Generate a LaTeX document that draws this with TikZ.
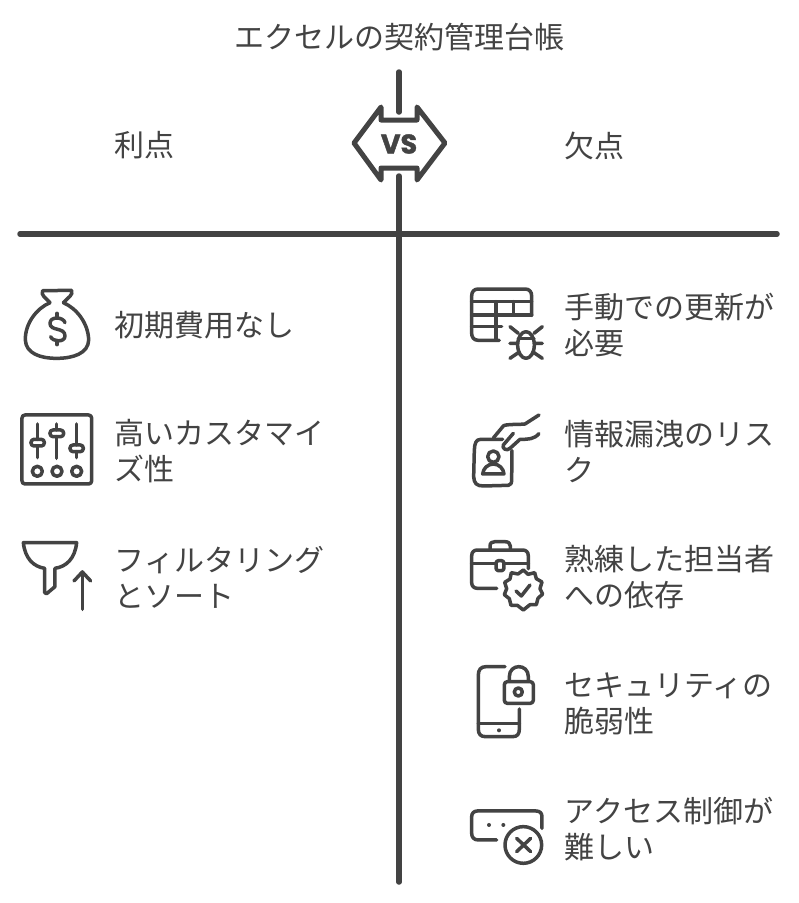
\documentclass[tikz,border=0pt]{standalone}
\usepackage{fontspec}
\setmainfont{Noto Sans CJK JP}
\newfontfamily\vsfont{Poppins}[BoldFeatures={FakeBold=1.5}]
\definecolor{ink}{HTML}{434343}
\tikzset{
  txt/.style={anchor=west,align=left,text=ink,inner sep=0pt,font=\fontsize{30}{36}\selectfont},
  heavy/.style={draw=ink,line width=5.5pt,line cap=round},
  vsbox/.style={draw=ink,line width=5pt,line cap=round,line join=round},
  icon/.style={draw=ink,line width=3.5pt,line cap=round,line join=round},
  zoomA/.style={shift={(10,280)},x=0.3333pt,y=-0.3333pt},
  zoomB/.style={shift={(460,280)},x=0.3333pt,y=-0.3333pt},
  zoomC/.style={shift={(460,530)},x=0.3333pt,y=-0.3333pt}
}
\begin{document}
\begin{tikzpicture}[x=1pt,y=-1pt]
\useasboundingbox (0,0) rectangle (799,903);
\fill[white] (0,0) rectangle (799,903);

\coordinate (vtopA) at (399,72);
\coordinate (vtopB) at (399,112);
\coordinate (vlowA) at (399,176);
\coordinate (vlowB) at (399,882);
\coordinate (hl) at (20,234);
\coordinate (hr) at (777,234);
\draw[heavy] (vtopA) -- (vtopB);
\draw[heavy] (vlowA) -- (vlowB);
\draw[heavy] (hl) -- (hr);

\draw[vsbox] (381,107) -- (354,143) -- (381,180) -- (381,168) -- (417,168) -- (417,180) -- (445,143) -- (417,107) -- (417,120) -- (381,120) -- cycle;
\node[text=ink,inner sep=0pt,font=\vsfont\bfseries\fontsize{27}{27}\selectfont] (vs) at (399,144) {VS};

\node[text=ink,inner sep=0pt,font=\fontsize{30}{36}\selectfont] (title) at (399,37.5) {エクセルの契約管理台帳};
\node[txt] (pro) at (114.5,145.5) {利点};
\node[txt] (con) at (564.5,145.5) {欠点};
\node[txt] (p1) at (114.5,325.5) {初期費用なし};
\node[txt] (p2) at (114.5,451.5) {高いカスタマイ\\ズ性};
\node[txt] (p3) at (114.5,577.5) {フィルタリング\\とソート};
\node[txt] (c1) at (564.5,325.5) {手動での更新が\\必要};
\node[txt] (c2) at (564.5,451.5) {情報漏洩のリス\\ク};
\node[txt] (c3) at (564.5,577.5) {熟練した担当者\\への依存};
\node[txt] (c4) at (564.5,703.5) {セキュリティの\\脆弱性};
\node[txt] (c5) at (564.5,829.5) {アクセス制御が\\難しい};

% money bag
\begin{scope}[zoomA]
\draw[icon] (120,68) .. controls (105,52) and (92,45) .. (98,32) -- (185,31) .. controls (190,45) and (175,52) .. (160,68);
\draw[icon] (120,68) .. controls (80,85) and (45,130) .. (46,180) .. controls (48,220) and (90,235) .. (140,235) .. controls (190,235) and (235,220) .. (236,180) .. controls (235,130) and (200,85) .. (160,68);
\draw[icon] (165,128) .. controls (160,110) and (120,108) .. (120,130) .. controls (120,155) and (165,140) .. (165,168) .. controls (165,188) and (128,186) .. (122,170);
\draw[icon] (141,100) -- (141,112) (141,183) -- (141,194);
\end{scope}
% sliders
\begin{scope}[zoomA]
\draw[icon,rounded corners=3pt] (36,405) -- (245,405) -- (245,612) -- (36,612) -- cycle;
\draw[icon] (82,432) -- (82,478) (82,498) -- (82,533);
\draw[icon] (140,432) -- (140,450) (140,470) -- (140,535);
\draw[icon] (200,432) -- (200,495) (200,515) -- (200,533);
\draw[icon,rounded corners=3pt] (63,478) rectangle (103,498);
\draw[icon,rounded corners=3pt] (120,450) rectangle (161,470);
\draw[icon,rounded corners=3pt] (180,495) rectangle (220,515);
\draw[icon] (82,574) circle[radius=15];
\draw[icon] (141,574) circle[radius=15];
\draw[icon] (200,574) circle[radius=15];
\end{scope}
% funnel and arrow
\begin{scope}[zoomA]
\draw[icon] (40,788) -- (200,788) .. controls (195,835) and (170,860) .. (135,865) -- (135,920) -- (110,941) -- (104,938) -- (104,865) .. controls (70,860) and (45,835) .. (40,788) -- cycle;
\draw[icon] (217,988) -- (217,876);
\draw[icon] (192,903) -- (217,876) -- (242,903);
\end{scope}
% table and bug
\begin{scope}[zoomB]
\draw[icon] (118,181) -- (55,181) .. controls (40,181) and (35,170) .. (35,160) -- (35,48) .. controls (35,35) and (42,27) .. (55,27) -- (195,27) .. controls (208,27) and (215,35) .. (215,48) -- (215,106);
\draw[icon] (35,65) -- (215,65) (35,105) -- (215,105) (35,140) -- (125,140);
\draw[icon] (108,65) -- (108,180) (160,65) -- (160,105);
\draw[icon] (198,195) ellipse[x radius=25,y radius=40];
\draw[icon] (175,175) -- (222,175);
\draw[icon] (150,140) -- (175,160) (247,140) -- (222,160) (150,190) -- (173,190) (224,190) -- (247,190) (150,235) -- (175,218) (222,218) -- (247,235);
\end{scope}
% hand and id card
\begin{scope}[zoomB]
\draw[icon] (128,478) -- (62,478) .. controls (48,478) and (44,490) .. (43,510) -- (41,590) .. controls (42,610) and (50,618) .. (70,618) -- (145,616) .. controls (152,615) and (155,610) .. (155,600) -- (156,512);
\draw[icon] (100,530) circle[radius=17];
\draw[icon] (68,582) -- (132,582) .. controls (130,565) and (118,553) .. (100,552) .. controls (82,553) and (70,565) .. (68,582) -- cycle;
\draw[icon] (100,474) -- (130,438) .. controls (135,432) and (180,434) .. (195,432) -- (237,405);
\draw[icon] (237,461) .. controls (222,478) and (205,478) .. (180,478) -- (150,505) .. controls (140,515) and (125,505) .. (130,495) -- (160,460);
\end{scope}
% briefcase and badge
\begin{scope}[zoomC]
\draw[icon] (90,58) -- (90,48) .. controls (90,38) and (97,35) .. (105,35) -- (135,35) .. controls (145,35) and (151,40) .. (151,48) -- (151,58);
\draw[icon] (110,175) -- (52,175) .. controls (42,175) and (35,168) .. (35,158) -- (35,78) .. controls (35,66) and (42,60) .. (52,60) -- (188,60) .. controls (198,60) and (205,66) .. (205,78) -- (205,116);
\draw[icon] (35,100) -- (108,100) (133,100) -- (205,100);
\draw[icon,rounded corners=2.5pt] (108,92) rectangle (132,122);
\draw[icon] (190,120) -- (204,133) -- (224,128) -- (229,146) -- (246,156) -- (240,176) -- (248,192) -- (234,205) -- (229,224) -- (210,224) -- (190,240) -- (172,226) -- (153,226) -- (148,206) -- (133,194) -- (140,176) -- (134,157) -- (150,147) -- (154,128) -- (174,132) -- cycle;
\draw[icon] (168,183) -- (184,198) -- (210,165);
\end{scope}
% phone and lock
\begin{scope}[zoomC]
\draw[icon] (135,410) -- (78,410) .. controls (62,410) and (55,420) .. (55,435) -- (55,598) .. controls (55,612) and (62,620) .. (76,620) -- (158,620) .. controls (172,620) and (178,612) .. (178,598) -- (178,537);
\draw[icon] (55,580) -- (178,580);
\fill[ink] (117,601) circle[radius=6];
\draw[icon,rounded corners=3pt] (133,455) rectangle (220,520);
\draw[icon] (148,454) -- (148,440) .. controls (148,400) and (205,400) .. (205,440) -- (205,454);
\draw[icon] (175,486) circle[radius=12];
\end{scope}
% window and cross
\begin{scope}[zoomC]
\draw[icon] (110,930) -- (55,930) .. controls (42,930) and (35,922) .. (35,910) -- (35,860) .. controls (35,850) and (42,843) .. (52,843) -- (228,843) .. controls (240,843) and (246,850) .. (246,860) -- (246,895);
\fill[ink] (87,885) circle[radius=6];
\fill[ink] (130,885) circle[radius=6];
\draw[icon] (190,945) circle[radius=55];
\draw[icon] (170,925) -- (212,965) (212,925) -- (170,965);
\end{scope}
\end{tikzpicture}
\end{document}
